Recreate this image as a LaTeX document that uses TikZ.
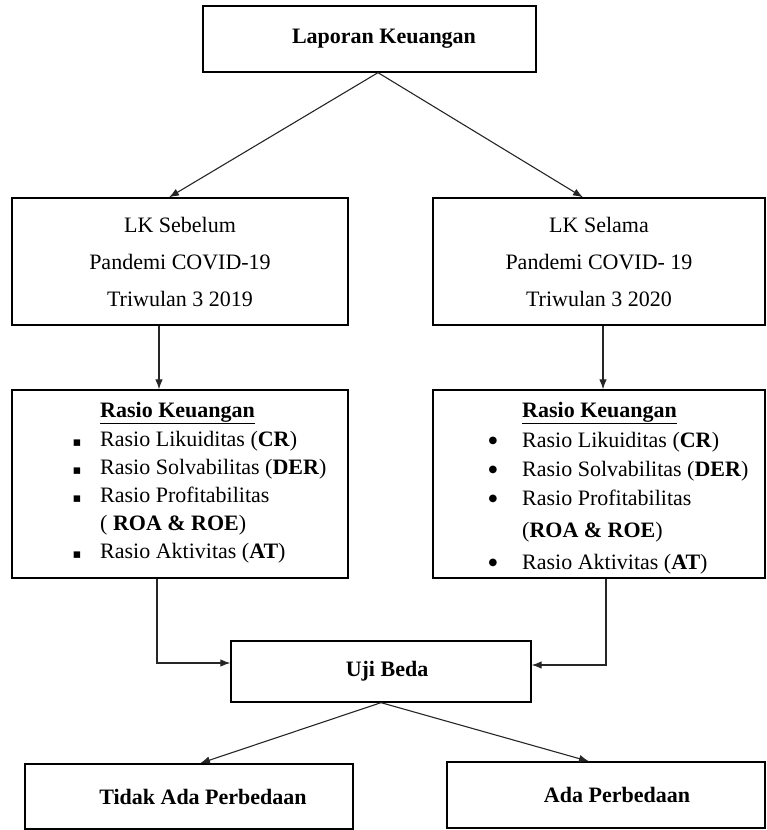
\documentclass[tikz,border=0pt]{standalone}
\usepackage{fontspec}
\setmainfont{Liberation Serif}
\newfontfamily\symfont{DejaVu Sans}
\usetikzlibrary{arrows.meta,calc}
\begin{document}
\begin{tikzpicture}[x=1pt,y=-1pt,
  box/.style={draw, line width=1.3pt, inner sep=0pt, align=center},
  arr/.style={draw=black!85, line width=1.1pt, -{Latex[length=10pt,width=7.5pt]}},
  bigtext/.style={font=\fontsize{22}{37}\selectfont},
  boldtext/.style={font=\fontsize{22}{26}\selectfont\bfseries},
  item/.style={inner sep=0pt, anchor=base west, font=\fontsize{22}{26}\selectfont},
  sq/.style={inner sep=0pt, anchor=base, font=\symfont\fontsize{13}{13}\selectfont},
  dot/.style={inner sep=0pt, anchor=base, font=\symfont\fontsize{10}{10}\selectfont},
  ]
\useasboundingbox (0,0) rectangle (766,830);

% top box
\node[box, boldtext, minimum width=333, minimum height=66] (top) at (369.5,39) {\hspace*{29pt}Laporan Keuangan};

% LK boxes
\node[box, bigtext, minimum width=336, minimum height=127] (lk1) at (180,261.5)
  {LK Sebelum\\Pandemi COVID-19\\Triwulan 3 2019};
\node[box, bigtext, minimum width=332, minimum height=127] (lk2) at (599,261.5)
  {LK Selama\\Pandemi COVID- 19\\Triwulan 3 2020};

% Rasio boxes
\node[box, minimum width=336, minimum height=188] (ras1) at (180,484) {};
\node[box, minimum width=332, minimum height=188] (ras2) at (599,484) {};

% left rasio content
\node[item, font=\fontsize{22}{26}\selectfont\bfseries] (t1) at (100,417) {\underline{Rasio Keuangan}};
\node[sq] (s1) at (77,446) {▪};
\node[item] (l1) at (100,446) {Rasio Likuiditas (\textbf{CR})};
\node[sq] (s2) at (77,474) {▪};
\node[item] (l2) at (100,474) {Rasio Solvabilitas (\textbf{DER})};
\node[sq] (s3) at (77,502) {▪};
\node[item] (l3) at (100,502) {Rasio Profitabilitas};
\node[item] (l4) at (100,530) {( \textbf{ROA \& ROE})};
\node[sq] (s4) at (77,558) {▪};
\node[item] (l5) at (100,558) {Rasio Aktivitas (\textbf{AT})};

% right rasio content
\node[item, font=\fontsize{22}{26}\selectfont\bfseries] (t2) at (522,417) {\underline{Rasio Keuangan}};
\node[dot] (d1) at (493,443) {●};
\node[item] (r1) at (522,447) {Rasio Likuiditas (\textbf{CR})};
\node[dot] (d2) at (493,472) {●};
\node[item] (r2) at (522,476) {Rasio Solvabilitas (\textbf{DER})};
\node[dot] (d3) at (493,501) {●};
\node[item] (r3) at (522,505) {Rasio Profitabilitas};
\node[item] (r4) at (522,537) {(\textbf{ROA \& ROE})};
\node[dot] (d4) at (493,565) {●};
\node[item] (r5) at (522,569) {Rasio Aktivitas (\textbf{AT})};

% Uji Beda
\node[box, boldtext, minimum width=300, minimum height=61] (uji) at (381,671.5) {\hspace*{12pt}Uji Beda};

% results
\node[box, boldtext, minimum width=328, minimum height=65] (tidak) at (189,796.5) {\hspace*{28pt}Tidak Ada Perbedaan};
\node[box, boldtext, minimum width=318, minimum height=66] (ada) at (606,795) {\hspace*{22pt}Ada Perbedaan};

% connectors
\draw[arr] ([xshift=8.5pt]top.south) -- ([xshift=-11pt]lk1.north);
\draw[arr] ([xshift=8.5pt]top.south) -- ([xshift=-16pt]lk2.north);
\draw[arr] ([xshift=-21pt]lk1.south) -- ([xshift=-21pt]ras1.north);
\draw[arr] ([xshift=4pt]lk2.south) -- ([xshift=4pt]ras2.north);
\draw[arr] ([xshift=-23pt]ras1.south) |- ([yshift=8.5pt]uji.west);
\draw[arr] ([xshift=7pt]ras2.south) |- ([yshift=6.5pt]uji.east);
\draw[arr] (uji.south) -- ([xshift=11pt]tidak.north);
\draw[arr] (uji.south) -- ([xshift=-17pt]ada.north);
\end{tikzpicture}
\end{document}
